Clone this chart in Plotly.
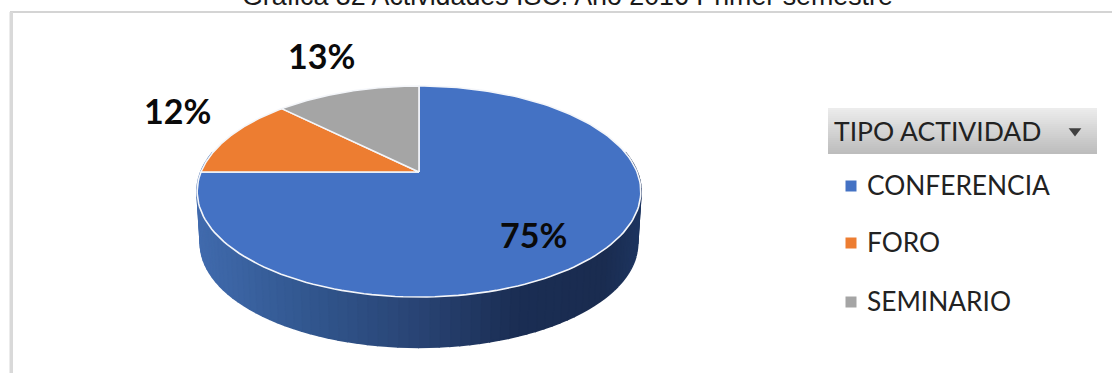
import numpy as np
import plotly.graph_objects as go

categories = ["CONFERENCIA", "FORO", "SEMINARIO"]
values = [75, 12.4, 12.6]
labels = ["75%", "12%", "13%"]
colors = ["#4472C4", "#ED7D31", "#A5A5A5"]
title = "Gráfica 32 Actividades ISC. Año 2016 Primer semestre"
legend_title = "TIPO ACTIVIDAD"

CX, CY, SX, SY, B = 419.0, 172.0, 218.0, 101.9, 0.185
DEPTH = 52.0


def project(theta, k=1.0, dy=0.0):
    X = np.sin(theta)
    Y = np.cos(theta)
    d = 1 + B * Y
    return CX + k * SX * X / d, CY + dy - k * SY * Y / d


def lerp_hex(stops, t):
    xs = [s[0] for s in stops]
    rgb = [np.interp(t, xs, [int(s[1][i:i + 2], 16) for s in stops]) for i in (1, 3, 5)]
    return "rgb(%d,%d,%d)" % tuple(rgb)


fig = go.Figure()

# frame
fig.add_shape(type="rect", x0=11, x1=1130, y0=12, y1=400,
              fillcolor="white", line=dict(color="#d4d4d4", width=2), layer="below")
fig.add_shape(type="rect", x0=9.5, x1=13, y0=12, y1=373,
              fillcolor="#d9d9d9", line=dict(width=0), layer="below")

# side wall: vertical strips shaded from left to right
side_stops = [(0.0, "#416BAE"), (0.25, "#32578F"), (0.5, "#294474"), (0.72, "#1B2E54"), (0.92, "#1A2C50"), (1.0, "#1E3560")]
n = 90
th = np.linspace(np.pi / 2 - 0.2, 3 * np.pi / 2 + 0.2, n + 1)
for i in range(n):
    a = np.linspace(th[i], th[i + 1], 3)
    xt, yt = project(a)
    xb, yb = project(a, k=0.985, dy=DEPTH)
    t = (0.5 * (xt[0] + xt[-1]) - 196) / 445
    col = lerp_hex(side_stops, t)
    fig.add_trace(go.Scatter(x=list(xt) + list(xb[::-1]), y=list(yt) + list(yb[::-1]),
                             mode="lines", fill="toself", fillcolor=col,
                             line=dict(color=col, width=2), hoverinfo="skip", showlegend=False))

# top surface: slices start at 12 o'clock and run clockwise
total = sum(values)
start = 0.0
for v, c, name in zip(values, colors, categories):
    end = start + v / total * 2 * np.pi
    a = np.linspace(start, end, 160)
    x, y = project(a)
    fig.add_trace(go.Scatter(x=[CX] + list(x) + [CX], y=[CY] + list(y) + [CY],
                             mode="lines", fill="toself", fillcolor=c, name=name,
                             line=dict(color="#F4F6FA", width=1.6), hoverinfo="name", showlegend=False))
    start = end

# percentage labels
label_xy = [(533, 234), (177, 110), (321, 55)]
for (lx, ly), t in zip(label_xy, labels):
    fig.add_annotation(x=lx, y=ly, text=f"<b>{t}</b>", showarrow=False,
                       font=dict(family="Lato", size=34, color="#0a0a0a"))

# chart title, cut off by the top edge of the picture
fig.add_annotation(x=567.5, y=13.5, text=title, showarrow=False, yanchor="bottom",
                   font=dict(family="Liberation Sans", size=26.8, color="#1a1a1a"))

# legend header with a vertical gradient
hn = 23
for i in range(hn):
    y0 = 108 + i * 2
    col = lerp_hex([(0, "#ECECEC"), (1, "#BDBDBD")], i / (hn - 1))
    fig.add_shape(type="rect", x0=828, x1=1097, y0=y0, y1=y0 + 2, fillcolor=col, line=dict(width=0), layer="below")
fig.add_annotation(x=832, y=131, text=legend_title, showarrow=False, xanchor="left",
                   font=dict(family="Lato", size=26.5, color="#222222"))
fig.add_trace(go.Scatter(x=[1075], y=[131], mode="markers", hoverinfo="skip", showlegend=False,
                         marker=dict(symbol="triangle-down", size=11, color="#404040")))

# legend entries
rows = [186, 243, 302]
for name, c, ry in zip(categories, colors, rows):
    fig.add_trace(go.Scatter(x=[851], y=[ry], mode="markers", hoverinfo="skip", showlegend=False,
                             marker=dict(symbol="square", size=11, color=c)))
    fig.add_annotation(x=865, y=ry - 1, text=name, showarrow=False, xanchor="left",
                       font=dict(family="Lato", size=26.3, color="#222222"))

fig.update_layout(
    width=1112, height=373, margin=dict(l=0, r=0, t=0, b=0),
    paper_bgcolor="white", plot_bgcolor="white", showlegend=False,
    xaxis=dict(range=[0, 1112], visible=False, fixedrange=True),
    yaxis=dict(range=[373, 0], visible=False, fixedrange=True),
)
fig.write_html("out.html", config=dict(displayModeBar=False),
               post_script="document.body.style.margin='0';document.body.style.overflow='hidden';")
